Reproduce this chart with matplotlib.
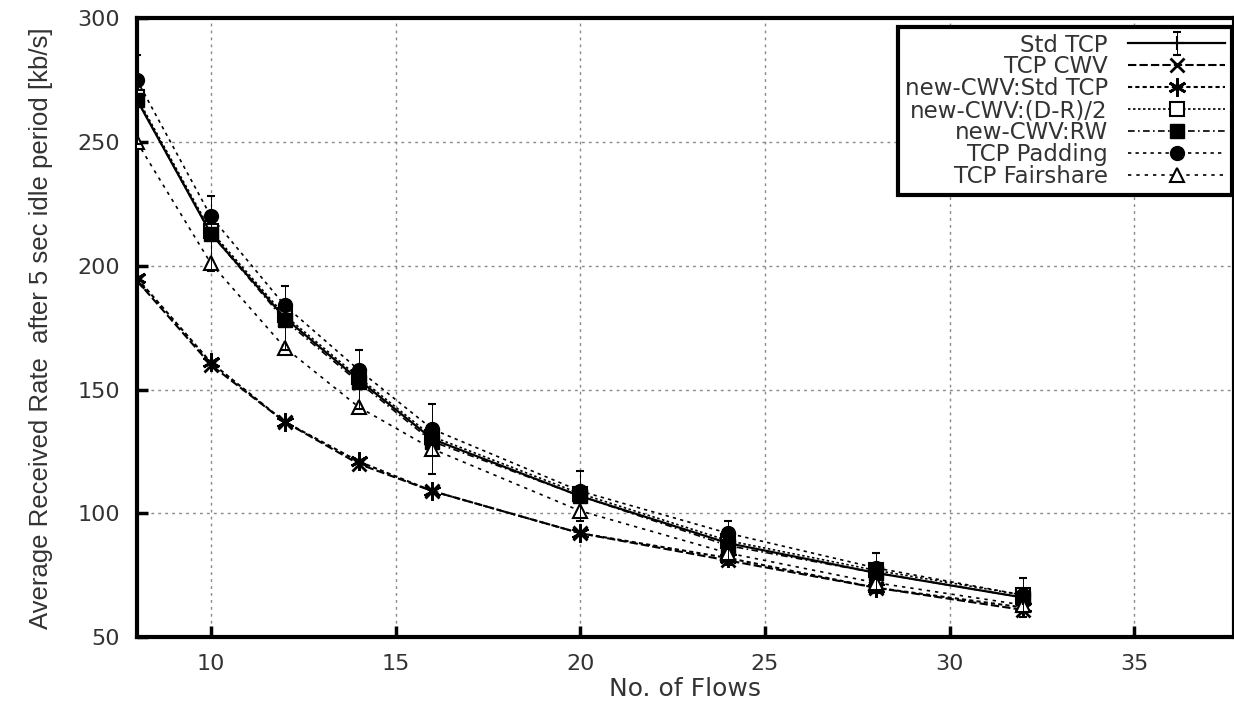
import matplotlib.pyplot as plt
import numpy as np

plt.rcParams['font.family'] = ['DejaVu Sans']

flows = [8, 10, 12, 14, 16, 20, 24, 28, 32]

std_tcp = [267, 213, 179, 154, 130, 107, 88, 76, 66]
std_tcp_err = [18, 15, 13, 12, 14, 10, 9, 8, 8]
tcp_cwv = [194, 160, 137, 120, 109, 92, 81, 70, 61]
new_cwv_std = [195, 161, 137, 121, 109, 92, 82, 70, 62]
new_cwv_dr2 = [268, 214, 180, 155, 131, 108, 89, 77, 67]
new_cwv_rw = [267, 213, 178, 153, 129, 107, 87, 76, 66]
tcp_padding = [275, 220, 184, 158, 134, 109, 92, 78, 67]
tcp_fairshare = [250, 201, 167, 143, 126, 101, 84, 72, 63]

fig = plt.figure(figsize=(12.34, 7.01), dpi=100)
ax = fig.add_axes([0.111, 0.091, 0.889, 0.883])

h1 = ax.errorbar(flows, std_tcp, yerr=std_tcp_err, color='black', lw=1.6, ls='-',
                 marker='+', ms=10, mew=1.5, capsize=3, elinewidth=0.7,
                 label='Std TCP', zorder=5)
h2, = ax.plot(flows, tcp_cwv, color='black', lw=1.5, ls=(0, (4, 1.5)), marker='x',
              ms=10, mew=2, label='TCP CWV', zorder=4)
h3, = ax.plot(flows, new_cwv_std, color='black', lw=1.5, ls=(0, (2, 1.5)),
              marker=(6, 2, 0), ms=13, mew=2, label='new-CWV:Std TCP', zorder=4)
h4, = ax.plot(flows, new_cwv_dr2, color='black', lw=1.2, ls=(0, (1.5, 1.5)),
              marker='s', ms=10, mfc='white', mew=1.5, label='new-CWV:(D-R)/2', zorder=4)
h5, = ax.plot(flows, new_cwv_rw, color='black', lw=1.2, ls=(0, (4, 2, 1, 2)),
              marker='s', ms=10, label='new-CWV:RW', zorder=4)
h6, = ax.plot(flows, tcp_padding, color='black', lw=1.2, ls=(0, (2, 2.5)),
              marker='o', ms=10, label='TCP Padding', zorder=4)
h7, = ax.plot(flows, tcp_fairshare, color='black', lw=1.2, ls=(0, (2, 3)),
              marker='^', ms=10, mfc='white', mew=1.5, label='TCP Fairshare', zorder=4)

ax.set_xlim(8, 37.7)
ax.set_ylim(50, 300)
ax.set_xticks([10, 15, 20, 25, 30, 35])
ax.set_yticks([50, 100, 150, 200, 250, 300])
ax.grid(True, ls=(0, (2, 3)), color='#888888', lw=1)
ax.tick_params(direction='in', length=8, width=2.5, labelsize=16, pad=12,
               labelcolor='#333333')
for s in ax.spines.values():
    s.set_linewidth(3)

ax.set_xlabel('No. of Flows', fontsize=18, color='#333333', labelpad=2)
ax.set_ylabel('Average Received Rate  after 5 sec idle period [kb/s]',
              fontsize=18.5, color='#333333', labelpad=18,
              family=['Liberation Sans'])

leg = ax.legend([h1, h2, h3, h4, h5, h6, h7],
                ['Std TCP', 'TCP CWV', 'new-CWV:Std TCP', 'new-CWV:(D-R)/2',
                 'new-CWV:RW', 'TCP Padding', 'TCP Fairshare'],
                loc='upper right', bbox_to_anchor=(0.998, 0.962),
                bbox_transform=fig.transFigure, markerfirst=False, fontsize=16.5,
                labelspacing=-0.05, handlelength=4.2, handletextpad=0.9,
                borderpad=0.3, borderaxespad=0, fancybox=False,
                framealpha=1, edgecolor='black')
leg.get_frame().set_linewidth(3)
for t in leg.get_texts():
    t.set_color('#333333')

fig.savefig('out.png', dpi=100)
